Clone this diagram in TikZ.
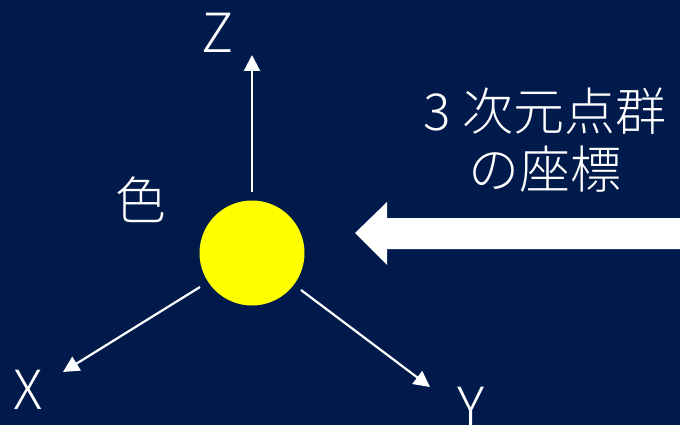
\documentclass[tikz,border=0pt]{standalone}
\usepackage{fontspec}
\usetikzlibrary{arrows.meta}
\newfontfamily\cjk{Noto Sans CJK JP}[UprightFont={* Light}]
\definecolor{bgnavy}{HTML}{001A4C}
\definecolor{ballyellow}{HTML}{FFFF00}
\begin{document}
\begin{tikzpicture}[x=1pt,y=-1pt,
  axis/.style={draw=white,line width=2.2pt,-{Triangle[length=16pt,width=16pt]}},
  axlabel/.style={text=white,font=\cjk\fontsize{54}{60}\selectfont,inner sep=0pt},
  jlabel/.style={text=white,font=\cjk\fontsize{51}{60}\selectfont,inner sep=0pt,align=center}]
\fill[bgnavy] (0,0) rectangle (680,425);
\useasboundingbox (0,0) rectangle (680,425);
\node[circle,fill=ballyellow,minimum size=105pt,inner sep=0pt] (ball) at (252,253) {};
\coordinate (zs) at (252,192);
\coordinate (zt) at (252,55);
\coordinate (xs) at (200,287);
\coordinate (xt) at (63,372);
\coordinate (ys) at (301,290);
\coordinate (yt) at (430,387);
\draw[axis] (zs) -- (zt);
\draw[axis] (xs) -- (xt);
\draw[axis] (ys) -- (yt);
\node[axlabel] (zl) at (218,33) {Z};
\node[axlabel] (xl) at (28,390) {X};
\node[axlabel] (yl) at (471,407) {Y};
\node[jlabel] (color) at (141,200) {色};
\node[jlabel] (coords) at (545,140) {3 次元点群\\[-2pt]の座標};
\fill[white] (355,233) -- (387,202) -- (387,218) -- (680,218) -- (680,249) -- (387,249) -- (387,265) -- cycle;
\end{tikzpicture}
\end{document}
